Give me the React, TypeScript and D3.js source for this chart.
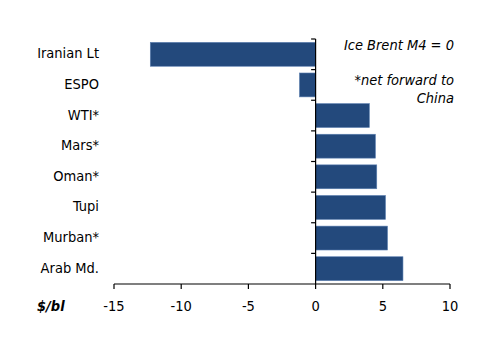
import { useEffect, useRef } from "react";
import * as d3 from "d3";

// crude names, top to bottom
const crudes = ["Iranian Lt", "ESPO", "WTI*", "Mars*", "Oman*", "Tupi", "Murban*", "Arab Md."];
// spread vs Ice Brent M4, $/bl
const spreads = [-12.3, -1.2, 4.0, 4.45, 4.55, 5.2, 5.35, 6.5];
const xTicks = [-15, -10, -5, 0, 5, 10];

const App = () => {
  const svgRef = useRef<SVGSVGElement | null>(null);

  useEffect(() => {
    const width = 500;
    const height = 353;
    const margin = { top: 39, right: 50, bottom: 69, left: 114 };
    const font = "'DejaVu Sans Condensed', 'DejaVu Sans', Verdana, sans-serif";
    const fs = "14.5px";

    const svg = d3.select(svgRef.current);
    svg.selectAll("*").remove();
    svg.attr("width", width).attr("height", height);

    const data = crudes.map((name, i) => ({ name, value: spreads[i] }));

    const x = d3.scaleLinear().domain([-15, 10]).range([margin.left, width - margin.right]);
    const y = d3
      .scaleBand()
      .domain(crudes)
      .range([margin.top, height - margin.bottom])
      .paddingInner(0.22)
      .paddingOuter(0.11);

    // bars
    svg
      .selectAll(".bar")
      .data(data)
      .enter()
      .append("rect")
      .attr("class", "bar")
      .attr("x", (d) => x(Math.min(0, d.value)))
      .attr("y", (d) => y(d.name)!)
      .attr("width", (d) => Math.abs(x(d.value) - x(0)))
      .attr("height", y.bandwidth())
      .attr("fill", "#23497c")
      .attr("stroke", "#5b7fb0")
      .attr("stroke-width", 0.6);

    // category labels
    svg
      .selectAll(".cat")
      .data(crudes)
      .enter()
      .append("text")
      .attr("class", "cat")
      .attr("x", 99)
      .attr("y", (d) => y(d)! + y.bandwidth() / 2)
      .attr("text-anchor", "end")
      .attr("dominant-baseline", "middle")
      .style("font-family", font)
      .style("font-size", fs)
      .attr("fill", "#000")
      .text((d) => d);

    // y axis at zero with ticks on band edges
    const yTop = margin.top;
    const yBottom = height - margin.bottom;
    const step = y.step();
    const edges = d3.range(crudes.length).map((i) => yTop + i * step);
    svg
      .append("line")
      .attr("x1", x(0))
      .attr("x2", x(0))
      .attr("y1", yTop)
      .attr("y2", yBottom)
      .attr("stroke", "#000")
      .attr("stroke-width", 1.2);
    svg
      .selectAll(".ytick")
      .data(edges)
      .enter()
      .append("line")
      .attr("class", "ytick")
      .attr("x1", x(0) - 4.5)
      .attr("x2", x(0))
      .attr("y1", (d) => d)
      .attr("y2", (d) => d)
      .attr("stroke", "#000")
      .attr("stroke-width", 1.2);

    // x axis
    svg
      .append("line")
      .attr("x1", x(-15))
      .attr("x2", x(10))
      .attr("y1", yBottom)
      .attr("y2", yBottom)
      .attr("stroke", "#000")
      .attr("stroke-width", 1.2);
    svg
      .selectAll(".xtick")
      .data(xTicks)
      .enter()
      .append("line")
      .attr("class", "xtick")
      .attr("x1", (d) => x(d))
      .attr("x2", (d) => x(d))
      .attr("y1", yBottom)
      .attr("y2", yBottom + 5)
      .attr("stroke", "#000")
      .attr("stroke-width", 1.2);
    svg
      .selectAll(".xlab")
      .data(xTicks)
      .enter()
      .append("text")
      .attr("class", "xlab")
      .attr("x", (d) => x(d))
      .attr("y", 311)
      .attr("text-anchor", "middle")
      .style("font-family", font)
      .style("font-size", fs)
      .attr("fill", "#000")
      .text((d) => d);

    // unit label
    svg
      .append("text")
      .attr("x", 37)
      .attr("y", 311)
      .style("font-family", font)
      .style("font-size", fs)
      .style("font-weight", "bold")
      .style("font-style", "italic")
      .text("$/bl");

    // notes
    const notes = [
      { t: "Ice Brent M4 = 0", y: 50 },
      { t: "*net forward to", y: 85 },
      { t: "China", y: 102.5 },
    ];
    svg
      .selectAll(".note")
      .data(notes)
      .enter()
      .append("text")
      .attr("class", "note")
      .attr("x", 454)
      .attr("y", (d) => d.y)
      .attr("text-anchor", "end")
      .style("font-family", font)
      .style("font-size", fs)
      .style("font-style", "italic")
      .text((d) => d.t);
  }, []);

  return (
    <div style={{ position: "absolute", left: 0, top: 0 }}>
      <svg ref={svgRef} style={{ display: "block" }}></svg>
    </div>
  );
};

export default App;
